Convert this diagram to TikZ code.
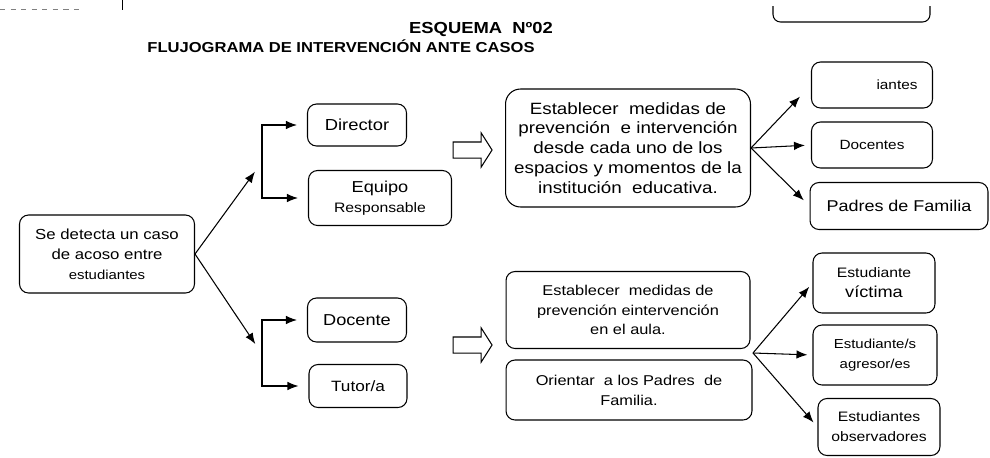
\documentclass[tikz,border=0pt]{standalone}
\usepackage{fontspec}
\setmainfont[FakeStretch=1.15]{Liberation Sans}
\usetikzlibrary{shapes.arrows,arrows.meta}
\newcommand{\tam}[1]{\fontsize{#1}{11.3}\selectfont}

\begin{document}
\begin{tikzpicture}[x=0.02cm,y=-0.02cm,
    caja/.style={draw, rounded corners=0.18cm, align=center, inner sep=1pt, line width=0.6pt},
    flecha/.style={-{Latex[length=2.2mm,width=1.7mm]}, line width=0.6pt},
    gruesa/.style={single arrow, draw, line width=0.6pt, minimum height=0.78cm, minimum width=0.66cm,
        inner sep=0.15cm, single arrow head extend=0.18cm, single arrow tip angle=115}]
    \useasboundingbox (0,0) rectangle (990,457);
    % restos de la hoja
    \draw[gray, dashed] (0,9) -- (80,9);
    \draw (122,0) -- (122,10);
    \draw[line width=0.6pt, rounded corners=0.15cm] (773,6) -- (773,22) -- (930,22) -- (930,6);
    % titulo
    \node[font=\tam{9.1}\bfseries] (tit) at (481,29) {ESQUEMA \ Nº02};
    \node[font=\tam{8.2}\bfseries] (sub) at (341,46) {FLUJOGRAMA DE INTERVENCIÓN ANTE CASOS};
    % cajas
    \node[caja, font=\tam{8.3}, minimum width=3.5cm, minimum height=1.56cm] (caso) at (107,254)
        {Se detecta un caso\\de acoso entre\\\tam{7.4}estudiantes};
    \node[caja, font=\tam{9.1}, minimum width=1.98cm, minimum height=0.84cm] (dir) at (357,125) {Director};
    \node[caja, font=\tam{9}, minimum width=2.86cm, minimum height=1.1cm] (equ) at (380,198)
        {Equipo\\\tam{7.8}Responsable};
    \node[caja, font=\tam{9}, minimum width=1.98cm, minimum height=0.88cm] (doc) at (357,320) {Docente};
    \node[caja, font=\tam{8.5}, minimum width=1.96cm, minimum height=0.86cm] (tut) at (358,386) {Tutor/a};
    \node[gruesa] (g1) at (470,150) {};
    \node[gruesa] (g2) at (470,345) {};
    \node[caja, font=\tam{9.3}, rounded corners=0.3cm, minimum width=4.9cm, minimum height=2.36cm] (med1) at (628,148)
        {Establecer \ medidas de\\prevención \ e intervención\\desde cada uno de los\\espacios y momentos de la\\institución \ educativa.};
    \node[caja, font=\tam{8.1}, minimum width=4.88cm, minimum height=1.54cm] (med2) at (628,310)
        {Establecer \ medidas de\\prevención eintervención\\en el aula.};
    \node[caja, font=\tam{8.1}, minimum width=4.92cm, minimum height=1.2cm] (ori) at (629,390)
        {Orientar \ a los Padres \ de\\Familia.};
    \node[caja, font=\tam{7.6}, minimum width=2.42cm, minimum height=0.92cm] (est) at (872,85) {\hspace*{1cm}iantes};
    \node[caja, font=\tam{7.6}, minimum width=2.42cm, minimum height=0.92cm] (docs) at (872,145) {Docentes};
    \node[caja, font=\tam{8.9}, minimum width=3.56cm, minimum height=0.94cm] (pad) at (899,206) {Padres de Familia};
    \node[caja, font=\tam{7.8}, minimum width=2.44cm, minimum height=1.2cm] (vic) at (874,283)
        {Estudiante\\\tam{9}víctima};
    \node[caja, font=\tam{7.4}, minimum width=2.48cm, minimum height=1.2cm] (agr) at (875,355)
        {Estudiante/s\\agresor/es};
    \node[caja, font=\tam{7.8}, minimum width=2.44cm, minimum height=1.14cm] (obs) at (879,427)
        {Estudiantes\\observadores};
    % flechas
    \coordinate (b1) at (262,162);
    \coordinate (b2) at (262,354);
    \coordinate (f2) at (753,353);
    \draw[flecha, shorten >=0.24cm] (caso.east) -- (b1);
    \draw[flecha, shorten >=0.24cm] (caso.east) -- (b2);
    \draw[flecha, shorten >=0.2cm] (b1) |- (dir);
    \draw[flecha, shorten >=0.2cm] (b1) |- (equ);
    \draw[flecha, shorten >=0.2cm] (b2) |- (doc);
    \draw[flecha, shorten >=0.2cm] (b2) |- (tut);
    \draw[flecha, shorten >=0.32cm] (med1.east) -- (est.west);
    \draw[flecha, shorten >=0.12cm] (med1.east) -- (docs.west);
    \draw[flecha, shorten >=0.16cm] (med1.east) -- (pad.west);
    \draw[flecha, shorten >=0.1cm] (f2) -- (vic.west);
    \draw[flecha, shorten >=0.1cm] (f2) -- (agr.west);
    \draw[flecha, shorten >=0.12cm] (f2) -- (obs.west);
\end{tikzpicture}
\end{document}
